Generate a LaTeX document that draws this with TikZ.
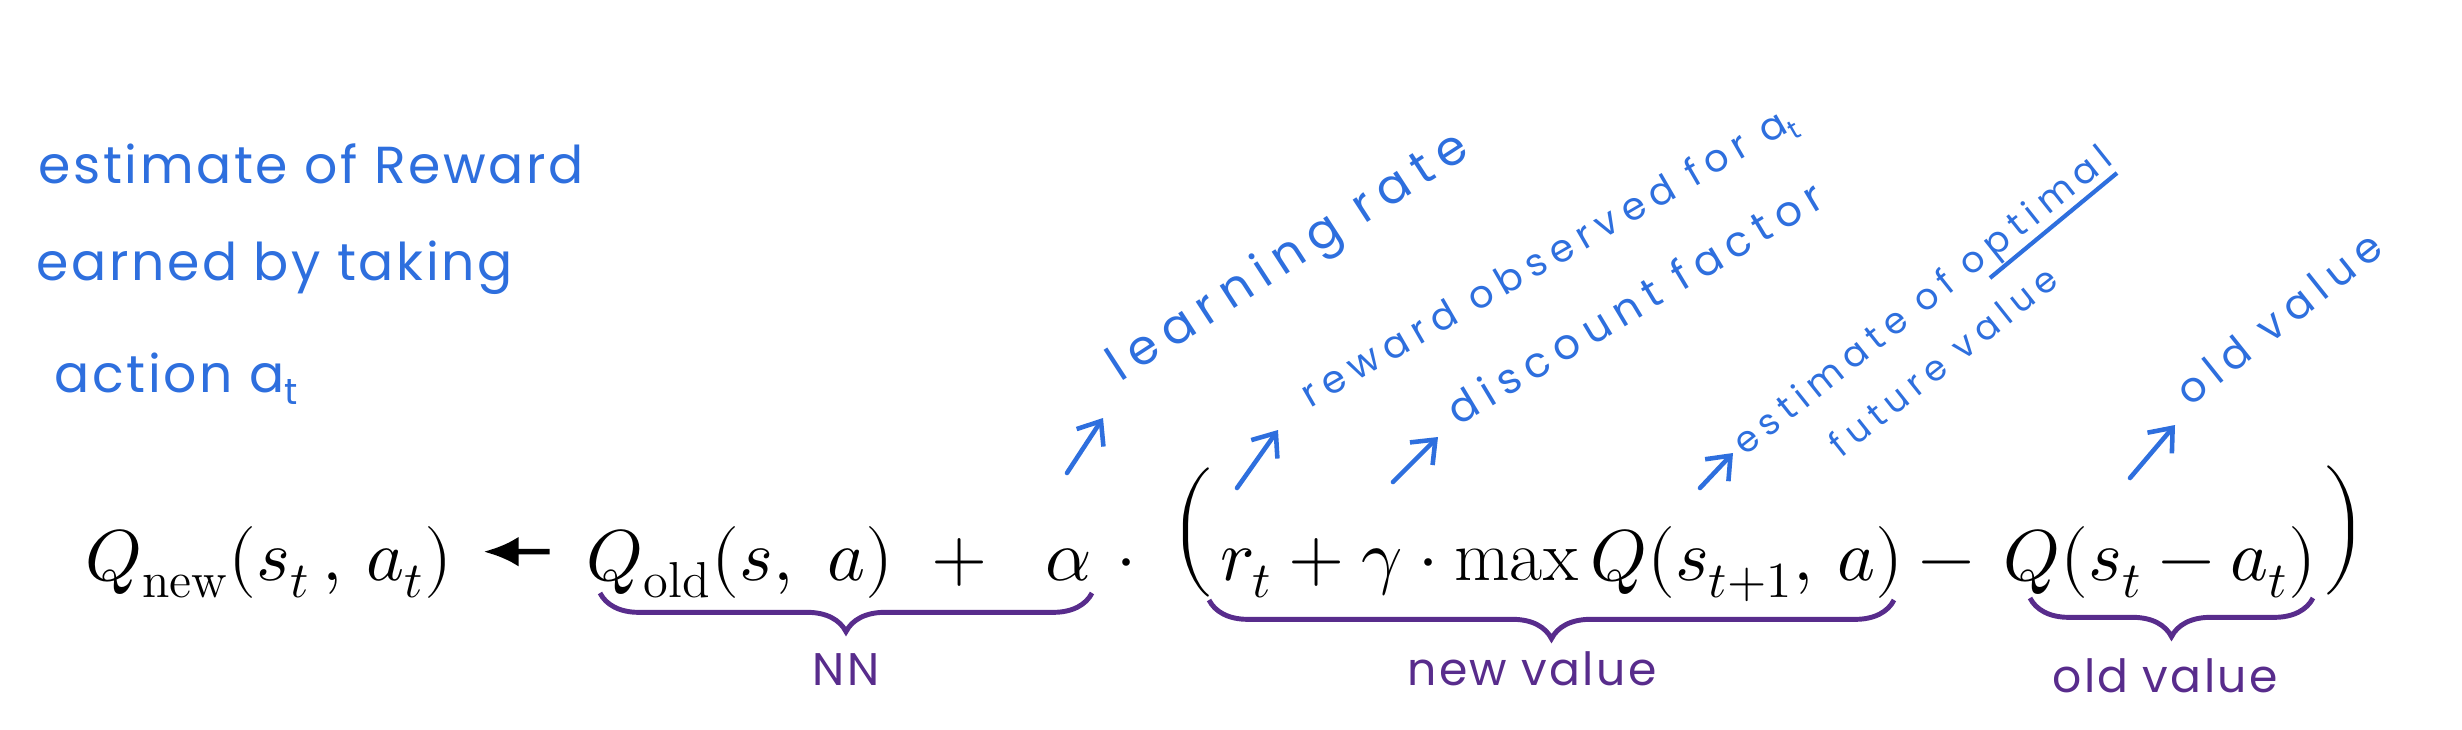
\documentclass[tikz,border=0pt]{standalone}
\usepackage{amsmath}
\usepackage{fontspec}
\usepackage{unicode-math}
\newfontfamily\handfont[LetterSpace=5]{Poppins}
\newfontfamily\notefont[LetterSpace=20]{Poppins}
\usetikzlibrary{positioning,arrows.meta,decorations.pathreplacing}
\definecolor{noteblue}{RGB}{46,111,222}
\definecolor{bracepurple}{RGB}{88,44,140}

\begin{document}
\begin{tikzpicture}[x=0.01cm,y=-0.01cm,
  eq/.style={inner sep=0pt,anchor=base,font=\fontsize{20.5}{24}\selectfont},
  side/.style={inner sep=0pt,anchor=base west,text=noteblue,font=\handfont\fontsize{14.8}{18}\selectfont},
  note/.style={inner sep=0pt,anchor=base west,text=noteblue},
  lbl/.style={inner sep=0pt,anchor=base,text=bracepurple,font=\handfont\fontsize{13}{15}\selectfont},
  ptr/.style={-{Straight Barb[length=2mm,width=3.2mm]},noteblue,line width=1.3pt,line cap=round},
  brc/.style={decorate,decoration={brace,mirror,amplitude=11pt},bracepurple,line width=1.4pt},
  ar/.style={-{Latex[length=3.5mm,width=3mm]},line width=1.6pt}]
\fill[white] (0,0) rectangle (2462,730);

% left note
\node[side] (rew1) at (38,183) {estimate of Reward};
\node[side] (rew2) at (36,280) {earned by taking};
\node[side] (rew3) at (54,392) {action a\textsubscript{t}};

% update rule
\node[eq,minimum width=3.54cm] (qnew) at (269,580) {$Q_{\mathrm{new}}(s_t\,,\,a_t)$};
\node[eq,minimum width=3.19cm] (qold) at (740,580) {$Q_{\mathrm{old}}(s,\ a)$};
\node[eq] (plus) at (960,580) {$+$};
\node[eq] (alpha) at (1069,580) {$\alpha$};
\node[eq] (dot) at (1127,580) {$\cdot$};
\node[eq,anchor=center] (lpar) at (1192,532) {$\Big($};
\node[eq,minimum width=6.81cm] (newv) at (1562,580) {$r_t + \gamma \cdot \max Q(s_{t+1},\,a)$};
\node[eq] (minus) at (1947,580) {$-$};
\node[eq] (oldv) at (2160,580) {$Q(s_t - a_t)$};
\node[eq,anchor=center] (rpar) at (2345,530) {$\Big)$};
\draw[ar,shorten <=0.3cm,shorten >=0.3cm] ([yshift=3pt]qold.west) -- ([yshift=3pt]qnew.east);

% braces
\draw[brc] (600,593) -- (1092,593);
\node[lbl] (nn) at (846,685) {NN};
\draw[brc] (1209,600) -- (1894,600);
\node[lbl] (newlbl) at (1532,685) {new value};
\draw[brc] (2030,598) -- (2313,598);
\node[lbl] (oldlbl) at (2165,692) {old value};

% slanted notes
\node[note,rotate=33,font=\notefont\fontsize{13.8}{16}\selectfont] (lrate) at (1120,383) {learning rate};
\node[note,rotate=30,font=\notefont\fontsize{10.9}{13}\selectfont] (rwd) at (1310,409) {reward observed for a\textsubscript{t}};
\node[note,rotate=31,font=\notefont\fontsize{12}{14}\selectfont] (disc) at (1458,427) {discount factor};
\node[note,rotate=38.5,font=\notefont\fontsize{10.3}{12}\selectfont] (est) at (1745,457) {estimate of optimal};
\node[note,rotate=38.5,font=\notefont\fontsize{10}{12}\selectfont] (fut) at (1841,459) {future value};
\node[note,rotate=38.5,font=\notefont\fontsize{11.9}{14}\selectfont] (oldnote) at (2190,408) {old value};
\draw[noteblue,line width=1.2pt] (1990,278) -- (2117,173);

% pointers
\coordinate (lrT) at (1067,473); \coordinate (lrH) at (1103,418);
\coordinate (rwT) at (1237,488); \coordinate (rwH) at (1278,430);
\coordinate (dfT) at (1393,482); \coordinate (dfH) at (1438,437);
\coordinate (esT) at (1700,488); \coordinate (esH) at (1733,453);
\coordinate (ovT) at (2130,478); \coordinate (ovH) at (2175,425);
\draw[ptr] (lrT) -- (lrH);
\draw[ptr] (rwT) -- (rwH);
\draw[ptr] (dfT) -- (dfH);
\draw[ptr] (esT) -- (esH);
\draw[ptr] (ovT) -- (ovH);
\end{tikzpicture}
\end{document}
